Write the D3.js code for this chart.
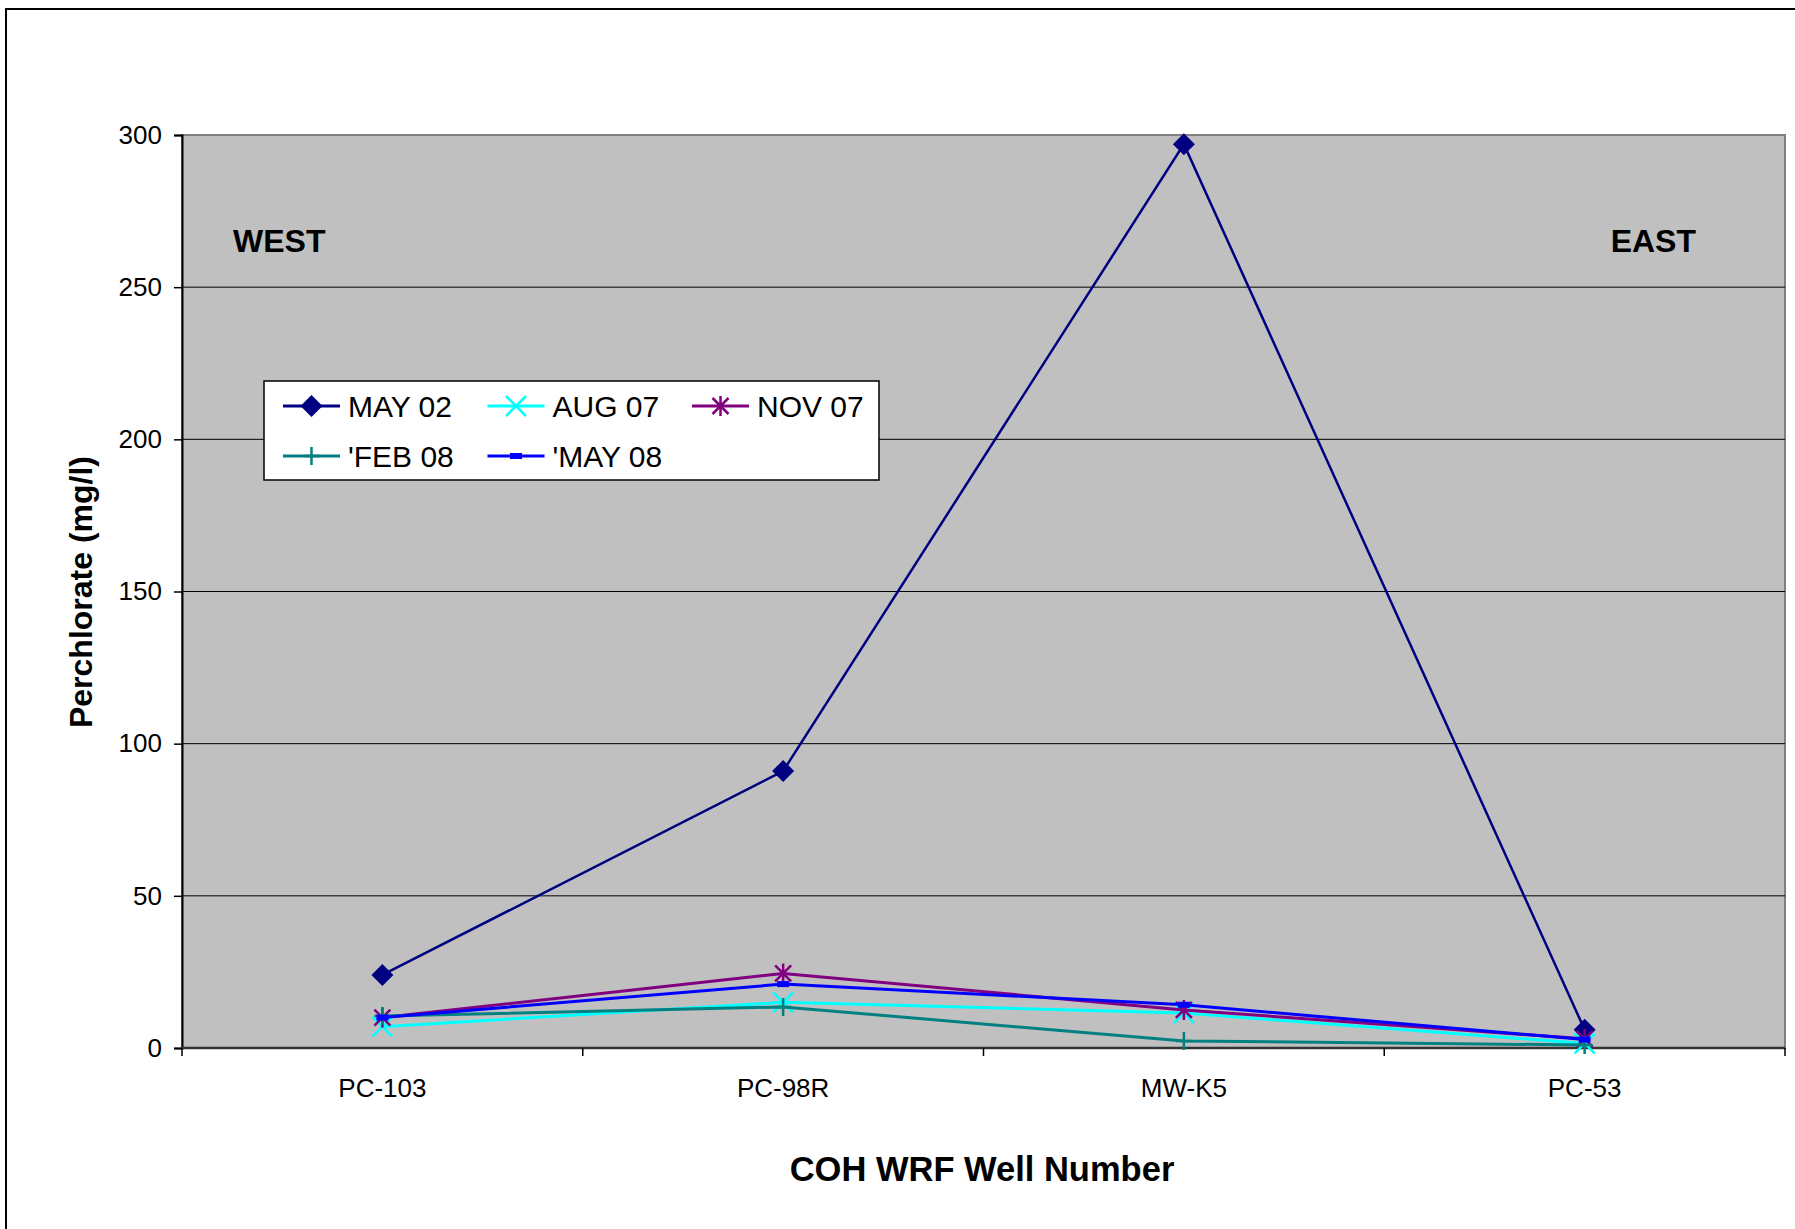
<!DOCTYPE html>
<meta charset="utf-8">
<style>
body { margin: 0; background: #fff; }
svg { display: block; font-family: Arial, "Liberation Sans", sans-serif; }
</style>
<body>
<div id="chart"></div>
<script src="https://d3js.org/d3.v7.min.js"></script>
<script>
// categories and series
var wells = ["PC-103", "PC-98R", "MW-K5", "PC-53"];
var may02 = [24, 91, 297, 6];
var aug07 = [7, 15, 11.5, 1.5];
var nov07 = [10, 24.5, 12.5, 3];
var feb08 = [10.5, 13.5, 2.3, 1];
var may08 = [10, 21, 14.2, 2.8];
var yTicks = [0, 50, 100, 150, 200, 250, 300];

var series = [
  {name: "MAY 02", values: may02, color: "#000080", marker: "diamond", width: 2.5},
  {name: "AUG 07", values: aug07, color: "#00FFFF", marker: "x", width: 3},
  {name: "NOV 07", values: nov07, color: "#800080", marker: "star", width: 3},
  {name: "'FEB 08", values: feb08, color: "#008080", marker: "plus", width: 3},
  {name: "'MAY 08", values: may08, color: "#0000FF", marker: "dash", width: 3}
];

var W = 1795, H = 1229;
var plot = {left: 182, top: 135, right: 1785, bottom: 1048};

var svg = d3.select("#chart").append("svg")
    .attr("width", W)
    .attr("height", H);

// outer chart frame (runs off the right and bottom edges)
svg.append("rect")
    .attr("x", 6).attr("y", 9)
    .attr("width", W + 10).attr("height", H + 10)
    .attr("fill", "#fff")
    .attr("stroke", "#000")
    .attr("stroke-width", 2);

var x = d3.scaleBand().domain(wells).range([plot.left, plot.right]).padding(0);
var y = d3.scaleLinear().domain([0, 300]).range([plot.bottom, plot.top]);
var cx = function(i) { return x(wells[i]) + x.bandwidth() / 2; };

// plot area
svg.append("rect")
    .attr("x", plot.left).attr("y", plot.top)
    .attr("width", plot.right - plot.left)
    .attr("height", plot.bottom - plot.top)
    .attr("fill", "#C0C0C0")
    .attr("stroke", "#808080")
    .attr("stroke-width", 2);

// gridlines
svg.append("g")
  .selectAll("line")
  .data(yTicks.filter(function(d) { return d > 0 && d < 300; }))
  .enter().append("line")
    .attr("x1", plot.left).attr("x2", plot.right)
    .attr("y1", function(d) { return y(d); })
    .attr("y2", function(d) { return y(d); })
    .attr("stroke", "#000")
    .attr("stroke-width", 1);

// y axis
var yAxis = svg.append("g")
    .attr("transform", "translate(" + plot.left + ",0)")
    .call(d3.axisLeft(y).tickValues(yTicks).tickSize(8).tickPadding(12));
yAxis.select(".domain").attr("stroke", "#000").attr("stroke-width", 2);
yAxis.selectAll(".tick line").attr("stroke", "#000").attr("stroke-width", 1.5);
yAxis.selectAll("text")
    .style("font-size", "26px")
    .style("font-family", "Arial, 'Liberation Sans', sans-serif")
    .attr("fill", "#000");

// x axis: tick marks sit on category boundaries
var xAxis = svg.append("g")
    .attr("transform", "translate(0," + plot.bottom + ")");
xAxis.append("line")
    .attr("x1", plot.left).attr("x2", plot.right)
    .attr("stroke", "#333").attr("stroke-width", 2.5);
var bounds = wells.map(function(w) { return x(w); }).concat([plot.right]);
xAxis.selectAll(".btick")
  .data(bounds)
  .enter().append("line")
    .attr("class", "btick")
    .attr("x1", function(d) { return d; })
    .attr("x2", function(d) { return d; })
    .attr("y1", 0).attr("y2", 8)
    .attr("stroke", "#000").attr("stroke-width", 1.5);
xAxis.selectAll(".xlab")
  .data(wells)
  .enter().append("text")
    .attr("class", "xlab")
    .attr("x", function(d, i) { return cx(i); })
    .attr("y", 49)
    .attr("text-anchor", "middle")
    .style("font-size", "26px")
    .text(function(d) { return d; });

// axis titles
svg.append("text")
    .attr("x", 982).attr("y", 1181)
    .attr("text-anchor", "middle")
    .style("font-size", "34.5px")
    .style("font-weight", "bold")
    .text("COH WRF Well Number");

svg.append("text")
    .attr("transform", "translate(92,592) rotate(-90)")
    .attr("text-anchor", "middle")
    .style("font-size", "32px")
    .style("font-weight", "bold")
    .text("Perchlorate (mg/l)");

// WEST / EAST notes
svg.append("text")
    .attr("x", 233).attr("y", 252)
    .style("font-size", "32px").style("font-weight", "bold")
    .text("WEST");
svg.append("text")
    .attr("x", 1696).attr("y", 252)
    .attr("text-anchor", "end")
    .style("font-size", "32px").style("font-weight", "bold")
    .text("EAST");

// markers
function drawMarker(g, type, color) {
  if (type === "diamond") {
    g.append("path").attr("d", "M0,-11L11,0L0,11L-11,0Z").attr("fill", color);
  } else if (type === "x") {
    g.append("path").attr("d", "M-10,-10L10,10M-10,10L10,-10")
      .attr("stroke", color).attr("stroke-width", 2.5).attr("fill", "none");
  } else if (type === "star") {
    g.append("path").attr("d", "M-8,-8L8,8M-8,8L8,-8M0,-10L0,10")
      .attr("stroke", color).attr("stroke-width", 2.5).attr("fill", "none");
  } else if (type === "plus") {
    g.append("path").attr("d", "M0,-9L0,9M-8,0L8,0")
      .attr("stroke", color).attr("stroke-width", 2.5).attr("fill", "none");
  } else if (type === "dash") {
    g.append("rect").attr("x", -6).attr("y", -3).attr("width", 12).attr("height", 6)
      .attr("fill", color);
  }
}

var line = d3.line()
    .x(function(d, i) { return cx(i); })
    .y(function(d) { return y(d); });

series.forEach(function(s) {
  var g = svg.append("g");
  g.append("path")
      .datum(s.values)
      .attr("d", line)
      .attr("fill", "none")
      .attr("stroke", s.color)
      .attr("stroke-width", s.width);
  s.values.forEach(function(v, i) {
    var m = g.append("g").attr("transform", "translate(" + cx(i) + "," + y(v) + ")");
    drawMarker(m, s.marker, s.color);
  });
});

// legend
var legend = svg.append("g");
legend.append("rect")
    .attr("x", 264).attr("y", 381)
    .attr("width", 615).attr("height", 99)
    .attr("fill", "#fff")
    .attr("stroke", "#000")
    .attr("stroke-width", 1.5);

series.forEach(function(s, i) {
  var col = i % 3, row = Math.floor(i / 3);
  var lx = 283 + col * 204.5, ly = 406 + row * 50;
  var item = legend.append("g");
  item.append("line")
      .attr("x1", lx).attr("x2", lx + 57)
      .attr("y1", ly).attr("y2", ly)
      .attr("stroke", s.color).attr("stroke-width", 3);
  drawMarker(item.append("g").attr("transform", "translate(" + (lx + 28.5) + "," + ly + ")"), s.marker, s.color);
  item.append("text")
      .attr("x", lx + 65).attr("y", ly + 11)
      .style("font-size", "30px")
      .text(s.name);
});
</script>
</body>
